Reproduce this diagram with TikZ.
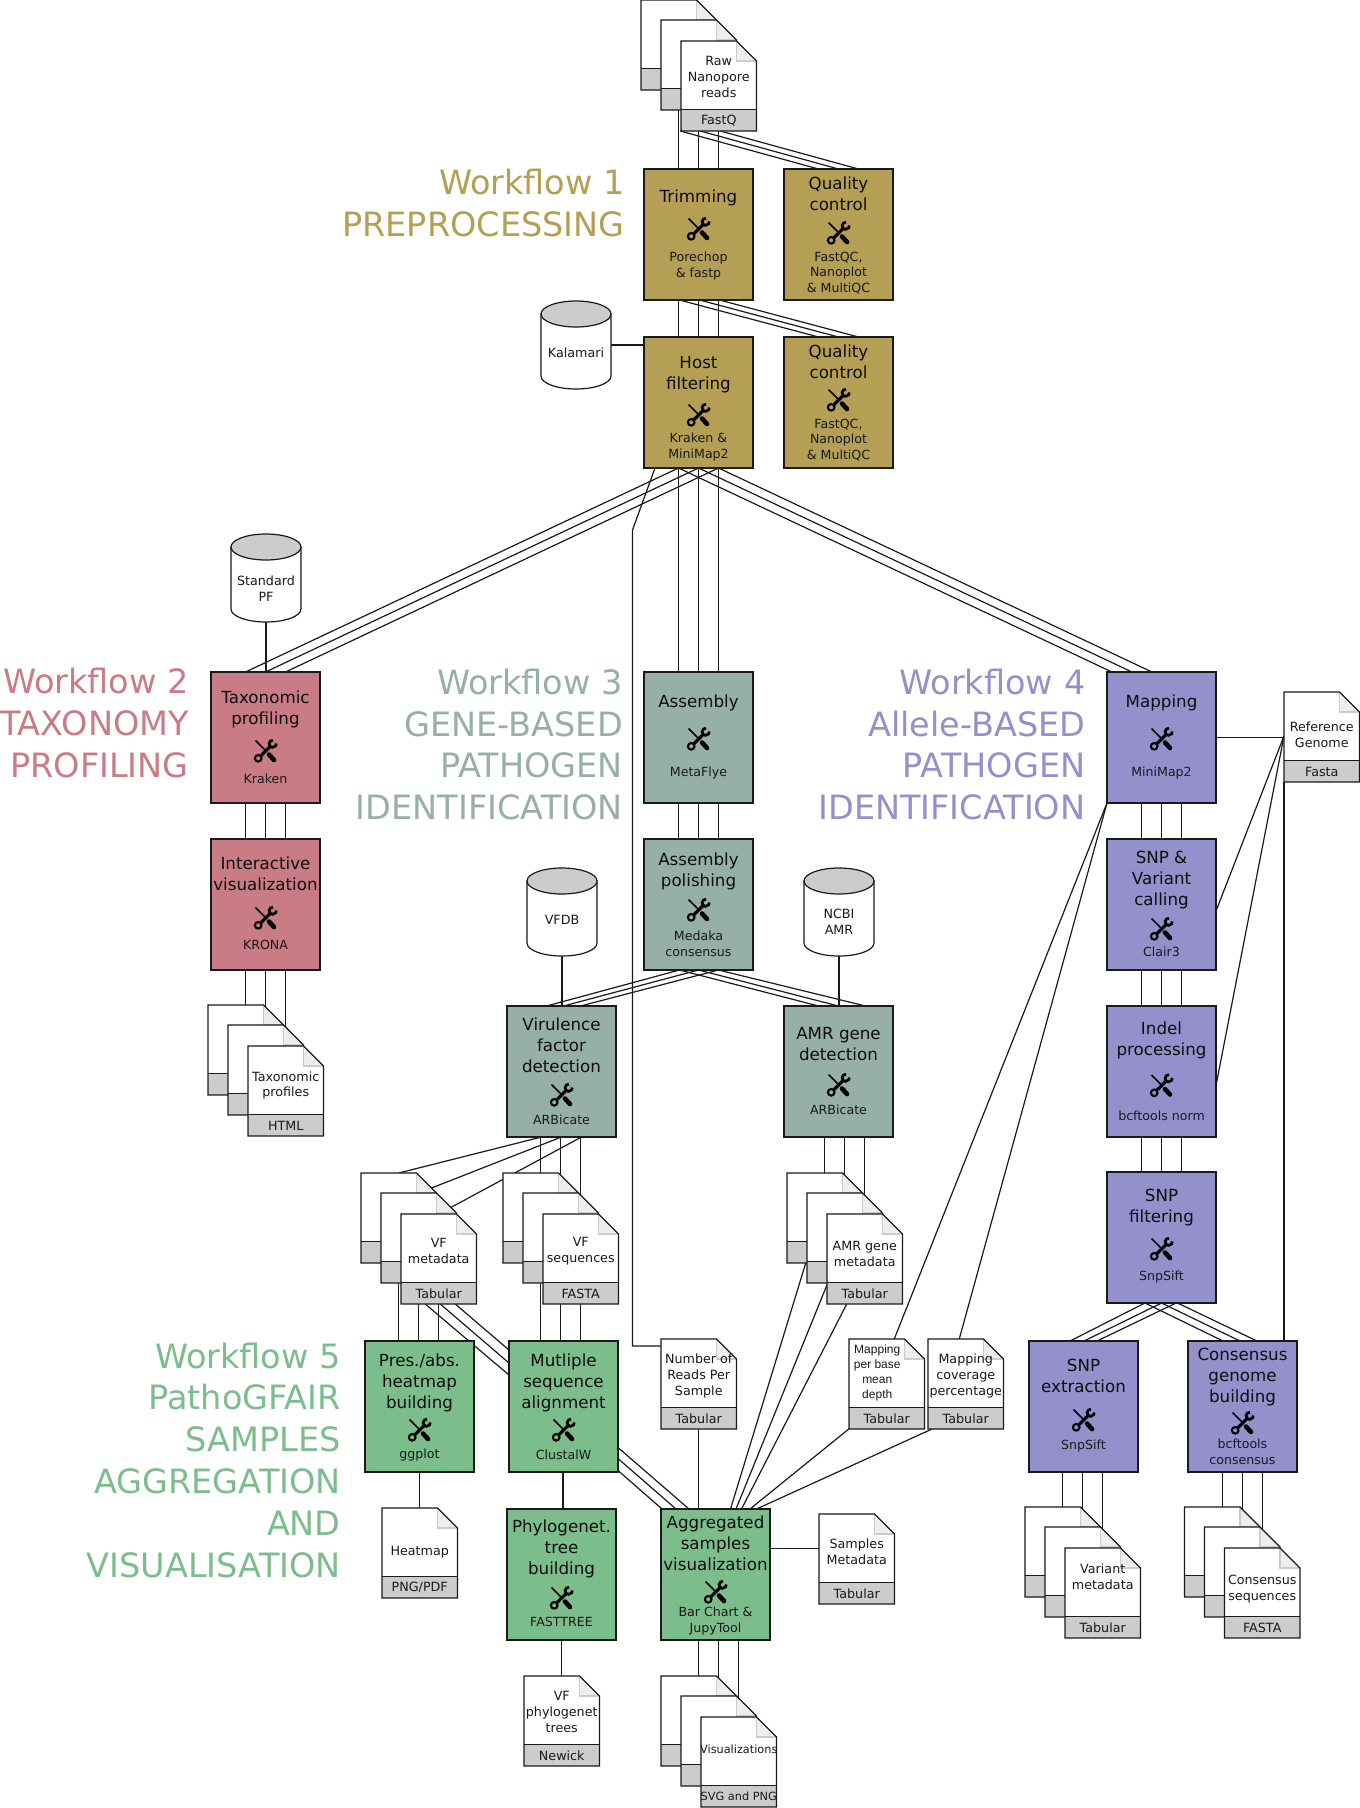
\documentclass[tikz,border=0pt]{standalone}
\usepackage{fontspec}
\setmainfont{DejaVu Sans}
\newfontfamily\arialfont{Liberation Sans}
\pgfdeclarelayer{bg}
\pgfsetlayers{bg,main}
\definecolor{cgold}{HTML}{B59F54}
\definecolor{cred}{HTML}{C97B86}
\definecolor{cteal}{HTML}{96B0A8}
\definecolor{cpurple}{HTML}{9490CC}
\definecolor{cgreen}{HTML}{7CBD8C}
\definecolor{cband}{HTML}{CCCCCC}
\definecolor{cfold}{HTML}{EEEEEE}
\definecolor{cline}{HTML}{1A1A1A}
\tikzset{
  conn/.style={draw=cline,line width=1.2pt},
  boxn/.style={draw=cline,line width=1.3pt,minimum width=109pt,minimum height=131pt,anchor=north west,inner sep=0pt,outer sep=0pt},
  ttl/.style={align=center,inner sep=0pt,font=\fontsize{16.7}{21}\selectfont,text=black!95},
  tooltxt/.style={align=center,inner sep=0pt,font=\fontsize{12.6}{15.7}\selectfont,text=black!90},
  filetxt/.style={align=center,inner sep=0pt,font=\fontsize{12.7}{15.9}\selectfont,text=black!90},
  hold/.style={minimum width=75.5pt,minimum height=90pt,anchor=north west,inner sep=0pt,outer sep=0pt},
  cylhold/.style={minimum width=70pt,minimum height=88pt,anchor=north west,inner sep=0pt,outer sep=0pt},
  wf/.style={align=right,anchor=east,inner sep=0pt,font=\fontsize{33.5}{41.8}\selectfont},
  toolicon/.pic={
    \begin{scope}[x=1pt,y=1pt,black]
      \draw[line width=1.7pt] (-10,10.5) -- (1,-0.5);
      \draw[line width=4.6pt,line cap=round] (3.5,-3.5) -- (8.5,-9);
      \draw[line width=3.2pt] (5.5,5.5) -- (-5.2,-5.2);
      \draw[line width=2.1pt] (-7.3,-7.3) circle (3.3pt);
      \draw[line width=2.7pt] (7.2,7.2) ++(85:3.6pt) arc[start angle=85,end angle=365,radius=3.6pt];
    \end{scope}
  }
}
\newcommand\boxn[9]{%
  \node[boxn,fill=#4] (#1) at (#2,#3) {};
  \node[ttl] (#1-t) at ([yshift=-#6 pt]#1.north) {#5};
  \path ([yshift=-#7 pt]#1.north) pic {toolicon};
  \node[tooltxt] (#1-l) at ([yshift=-#9 pt]#1.north) {#8};
}
\newcommand\plainfile[3]{%
  \begin{scope}[shift={(#2,#3)}]
    \node[hold] (#1) at (0,0) {};
    \fill[white] (0,0) -- (55.5,0) -- (75.5,20) -- (75.5,90) -- (0,90) -- cycle;
    \fill[cfold] (55.5,0) -- (55.5,20) -- (75.5,20) -- cycle;
    \draw[cband,line width=1.2pt] (55.5,0) -- (55.5,20) -- (75.5,20);
    \fill[cband] (0,68.5) rectangle (75.5,90);
    \draw[cline,line width=1.2pt] (0,68.5) -- (75.5,68.5);
    \draw[cline,line width=1.3pt,line join=miter] (0,0) -- (55.5,0) -- (75.5,20) -- (75.5,90) -- (0,90) -- cycle;
  \end{scope}
}
\newcommand\filen[6]{%
  \plainfile{#1}{#2}{#3}
  \node[filetxt] (#1-t) at ([yshift=-#5 pt]#1.north) {#4};
  \node[filetxt] (#1-b) at ([yshift=-79.7pt]#1.north) {#6};
}
\newcommand\stackn[6]{%
  \plainfile{#11}{#2-40}{#3-41}
  \plainfile{#12}{#2-20}{#3-21}
  \filen{#13}{#2}{#3}{#4}{#5}{#6}
}
\newcommand\cyln[5]{%
  \begin{scope}[shift={(#2,#3)}]
    \node[cylhold] (#1) at (0,0) {};
    \filldraw[fill=white,draw=cline,line width=1.2pt] (0,13) -- (0,75) arc[start angle=180,end angle=360,x radius=35pt,y radius=13pt] -- (70,13) -- cycle;
    \filldraw[fill=cband,draw=cline,line width=1.2pt] (35,13) ellipse[x radius=35pt,y radius=13pt];
  \end{scope}
  \node[filetxt] (#1-t) at ([yshift=-#5 pt]#1.north) {#4};
}
\newcommand\lk[4]{\draw[conn] ([shift={(#2)}]#1) -- ([shift={(#4)}]#3);}
\newcommand\vl[2]{\draw[conn] (#1) -- (#1 |- #2);}
\newcommand\vf[2]{\draw[conn] (#1 |- #2) -- (#1);}
\newcommand\tri[2]{\foreach \d in {-20,0,20}{\draw[conn] ([xshift=\d pt]#1.south) -- ([xshift=\d pt]#2.north);}}
\newcommand\smalltxt{\fontsize{11.3}{14}\selectfont}
\begin{document}
\begin{tikzpicture}[x=1pt,y=-1pt]
\useasboundingbox (0,0) rectangle (1360,1808);

% workflow titles
\node[wf,text=cgold] (wf1) at (625,203) {Workflow 1\\PREPROCESSING};
\node[wf,text=cred] (wf2) at (189,723) {Workflow 2\\TAXONOMY\\PROFILING};
\node[wf,text=cteal] (wf3) at (623,744.5) {Workflow 3\\GENE-BASED\\PATHOGEN\\IDENTIFICATION};
\node[wf,text=cpurple] (wf4) at (1085.5,744.5) {Workflow 4\\Allele-BASED\\PATHOGEN\\IDENTIFICATION};
\node[wf,text=cgreen] (wf5) at (341,1460) {Workflow 5\\PathoGFAIR\\SAMPLES\\AGGREGATION\\AND~\\VISUALISATION};

% preprocessing
\stackn{raw}{681}{41}{Raw\\Nanopore\\reads}{36}{FastQ}
\boxn{trim}{644}{169}{cgold}{Trimming}{29}{60}{Porechop\\\& fastp}{97}
\boxn{qca}{784}{169}{cgold}{Quality\\control}{25}{64}{FastQC,\\Nanoplot\\\& MultiQC}{104}
\boxn{host}{644}{337}{cgold}{Host\\filtering}{38}{78}{Kraken \&\\MiniMap2}{110}
\boxn{qcb}{784}{337}{cgold}{Quality\\control}{25}{63}{FastQC,\\Nanoplot\\\& MultiQC}{103}
\cyln{kal}{541}{301}{Kalamari}{52}

% taxonomy
\cyln{spf}{231}{534}{Standard\\PF}{55}
\boxn{tax}{211}{672}{cred}{Taxonomic\\profiling}{37}{79}{Kraken}{107}
\boxn{krona}{211}{839}{cred}{Interactive\\visualization}{34.5}{79}{KRONA}{106}
\stackn{tp}{248}{1046}{Taxonomic\\profiles}{39.5}{HTML}

% gene based
\boxn{asm}{644}{672}{cteal}{Assembly}{31}{67}{MetaFlye}{101}
\boxn{pol}{644}{839}{cteal}{Assembly\\polishing}{32}{71}{Medaka\\consensus}{105}
\cyln{vfdb}{527}{868}{VFDB}{52}
\cyln{ncbi}{804}{868}{NCBI\\AMR}{54}
\boxn{vir}{507}{1006}{cteal}{Virulence\\factor\\detection}{39}{89}{ARBicate}{114}
\boxn{amr}{784}{1006}{cteal}{AMR gene\\detection}{38}{79}{ARBicate}{104}
\stackn{vfm}{401}{1214}{VF\\metadata}{37}{Tabular}
\stackn{vfs}{543}{1214}{VF\\sequences}{37}{FASTA}
\stackn{amf}{827}{1214}{AMR gene\\metadata}{40}{Tabular}

% allele based
\boxn{map}{1107}{672}{cpurple}{Mapping}{31}{67}{MiniMap2}{101}
\filen{ref}{1284}{692}{Reference\\Genome}{42.5}{Fasta}
\boxn{snp}{1107}{839}{cpurple}{SNP \&\\Variant\\calling}{41.5}{90}{Clair3}{113}
\boxn{ind}{1107}{1006}{cpurple}{Indel\\processing}{34}{79.5}{bcftools norm}{109.5}
\boxn{fil}{1107}{1172}{cpurple}{SNP\\filtering}{36}{77}{SnpSift}{105}
\boxn{ext}{1029}{1341}{cpurple}{SNP\\extraction}{35}{79}{SnpSift}{105.5}
\boxn{cons}{1188}{1341}{cpurple}{Consensus\\genome\\building}{36}{82}{bcftools\\consensus}{111}
\stackn{vam}{1065}{1548}{Variant\\metadata}{29}{Tabular}
\stackn{cof}{1224.5}{1548}{Consensus\\sequences}{41}{FASTA}

% aggregation
\boxn{pres}{365}{1341}{cgreen}{Pres./abs.\\heatmap\\building}{42}{89}{ggplot}{114}
\boxn{msa}{509}{1341}{cgreen}{Mutliple\\sequence\\alignment}{42}{89}{ClustalW}{114}
\boxn{agg}{661}{1509}{cgreen}{Aggregated\\samples\\visualization}{34}{83}{Bar Chart \&\\JupyTool}{112}
\boxn{phy}{507}{1509}{cgreen}{Phylogenet.\\tree\\building}{40}{89}{FASTTREE}{113}
\filen{reads}{661}{1339}{Number of\\Reads Per\\Sample}{37}{Tabular}
\filen{depth}{849}{1339}{}{37}{Tabular}
\node[filetxt,font=\arialfont\fontsize{12}{15}\selectfont] (depthtxt) at ([shift={(-9.5,34)}]depth.north) {Mapping\\per base\\mean\\depth};
\filen{cov}{928}{1339}{Mapping\\coverage\\percentage}{37}{Tabular}
\filen{smeta}{819}{1514}{Samples\\Metadata}{38}{Tabular}
\filen{heat}{382}{1508}{Heatmap}{44}{PNG/PDF}
\filen{vfp}{524}{1676}{VF\\phylogenet\\trees}{36}{Newick}
\stackn{vis}{701}{1717}{\smalltxt Visualizations}{32}{\smalltxt SVG and PNG}

\coordinate (rdbend) at (632.5,530);

\begin{pgfonlayer}{bg}
  \fill[white] (0,0) rectangle (1360,1808);
  % raw reads
  \vl{raw1.south}{trim.north}
  \vl{raw2.south}{trim.north}
  \vl{raw3.south}{trim.north}
  \lk{raw3.south}{-38.5,0}{qca.north}{-20,0}
  \lk{raw3.south}{-18.5,0}{qca.north}{0,0}
  \lk{raw3.south}{1.5,0}{qca.north}{20,0}
  \tri{trim}{host}
  \lk{trim.south}{-19,0}{qcb.north}{-20,0}
  \lk{trim.south}{1,0}{qcb.north}{0,0}
  \lk{trim.south}{21,0}{qcb.north}{20,0}
  \draw[conn] (kal.east) -- (kal.east -| host.west);
  % host to branches
  \tri{host}{tax}
  \tri{host}{asm}
  \lk{host.south}{-20,0}{map.north}{-49.5,0}
  \lk{host.south}{0,0}{map.north}{-29.5,0}
  \lk{host.south}{20,0}{map.north}{-9.5,0}
  \draw[conn] ([xshift=-43.5pt]host.south) -- (rdbend) |- ([yshift=-7pt]reads.north west);
  % taxonomy
  \draw[conn] (spf.south) -- (spf.south |- tax.north);
  \tri{tax}{krona}
  \vf{tp1.north}{krona.south}
  \vf{tp2.north}{krona.south}
  \vf{tp3.north}{krona.south}
  % gene based
  \tri{asm}{pol}
  \vl{vfdb.south}{vir.north}
  \vl{ncbi.south}{amr.north}
  \lk{pol.south}{-19,0}{vir.north}{-15,0}
  \lk{pol.south}{0,0}{vir.north}{2,0}
  \lk{pol.south}{20,0}{vir.north}{19,0}
  \lk{pol.south}{-19,0}{amr.north}{-20,0}
  \lk{pol.south}{0,0}{amr.north}{0,0}
  \lk{pol.south}{20,0}{amr.north}{27,0}
  \lk{vir.south}{-20,0}{vfm1.north}{0,0}
  \lk{vir.south}{0,0}{vfm2.north}{0,0}
  \lk{vir.south}{20,0}{vfm3.north}{0,0}
  \vf{vfs1.north}{vir.south}
  \vf{vfs2.north}{vir.south}
  \vf{vfs3.north}{vir.south}
  \vf{amf1.north}{amr.south}
  \vf{amf2.north}{amr.south}
  \vf{amf3.north}{amr.south}
  % files to aggregation
  \vl{vfm1.south}{pres.north}
  \vl{vfm2.south}{pres.north}
  \vl{vfm3.south}{pres.north}
  \lk{vfm3.south}{-13.5,0}{msa.west}{0,-31.5}
  \lk{vfm3.south}{1.5,0}{msa.west}{0,-43.5}
  \lk{vfm3.south}{16.5,0}{msa.west}{0,-56.5}
  \vl{vfs1.south}{msa.north}
  \vl{vfs2.south}{msa.north}
  \vl{vfs3.south}{msa.north}
  \lk{msa.east}{0,41}{agg.north}{-26.5,0}
  \lk{msa.east}{0,52}{agg.north}{-39.5,0}
  \lk{msa.east}{0,64}{agg.north}{-53.5,0}
  \draw[conn] ([xshift=-0.5pt]msa.south) -- ([xshift=-0.5pt]msa.south |- phy.north);
  \vl{phy.south}{vfp.north}
  \vl{pres.south}{heat.north}
  \vl{reads.south}{agg.north}
  \lk{amf1.south}{-19,0}{agg.north}{15,0}
  \lk{amf2.south}{-17,0}{agg.north}{20.5,0}
  \lk{amf3.south}{-18,0}{agg.north}{26,0}
  % allele based
  \draw[conn] (map.east) -- (map.east -| ref.west);
  \lk{snp.east}{0,6.5}{ref.west}{0,-1}
  \lk{ind.east}{0,14}{ref.west}{0,-1}
  \draw[conn] (ref.south west) -- (ref.south west |- cons.north);
  \tri{map}{snp}
  \tri{snp}{ind}
  \tri{ind}{fil}
  \lk{fil.south}{-16.5,0}{ext.north}{-13.5,0}
  \lk{fil.south}{0,0}{ext.north}{0.5,0}
  \lk{fil.south}{14.5,0}{ext.north}{13.5,0}
  \lk{fil.south}{-16.5,0}{cons.north}{-19.5,0}
  \lk{fil.south}{0,0}{cons.north}{-2.5,0}
  \lk{fil.south}{16,0}{cons.north}{14.5,0}
  \vf{vam1.north}{ext.south}
  \vf{vam2.north}{ext.south}
  \vf{vam3.north}{ext.south}
  \vf{cof1.north}{cons.south}
  \vf{cof2.north}{cons.south}
  \vf{cof3.north}{cons.south}
  \lk{map.south west}{0,0}{depth.north}{7.5,0}
  \lk{map.south west}{0,0}{cov.north}{-6.5,0}
  \lk{depth.south west}{1,-1}{agg.north}{34.5,0}
  \lk{cov.south west}{4,0}{agg.north}{41,0}
  \draw[conn] ([yshift=26pt]agg.east) -- ([yshift=26pt]agg.east -| smeta.west);
  \vf{vis1.north}{agg.south}
  \vf{vis2.north}{agg.south}
  \vf{vis3.north}{agg.south}
\end{pgfonlayer}
\end{tikzpicture}
\end{document}
